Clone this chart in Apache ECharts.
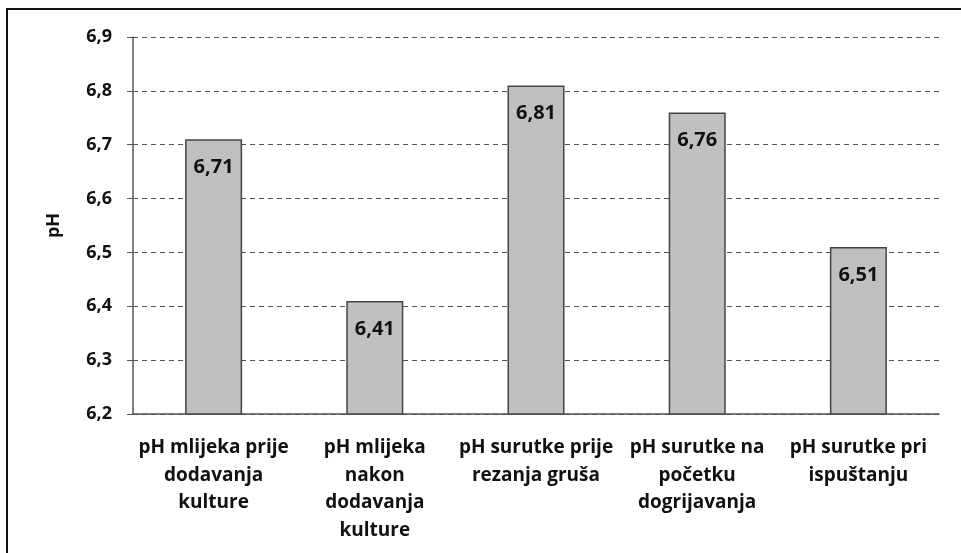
<!DOCTYPE html>
<html>
<head>
<meta charset="utf-8">
<script src="https://cdn.jsdelivr.net/npm/echarts@6/dist/echarts.min.js"></script>
<style>
  html, body { margin: 0; padding: 0; background: #fff; }
  #chart { width: 961px; height: 553px; }
</style>
</head>
<body>
<div id="chart"></div>
<script>
 var categories = ['pH mlijeka prije\ndodavanja\nkulture', 'pH mlijeka\nnakon\ndodavanja\nkulture',
   'pH surutke prije\nrezanja gruša', 'pH surutke na\npočetku\ndogrijavanja', 'pH surutke pri\nispuštanju'];
 var phValues = [6.71, 6.41, 6.81, 6.76, 6.51];
 var yMin = 6.2, yMax = 6.9, yStep = 0.1;

 function commaNum(v, d) {
   return v.toFixed(d).replace('.', ',');
 }

 function makeOption() {
   var option = {
     animation: false,
     textStyle: { fontFamily: 'Open Sans' },
     // okvir oko grafa
     graphic: [{
       type: 'rect',
       shape: { x: 7, y: 9, width: 1200, height: 1000 },
       style: { fill: 'none', stroke: '#111', lineWidth: 2 }
     }],
     grid: { left: 133, right: 22, top: 37, bottom: 139 },
     xAxis: {
       type: 'category',
       data: categories,
       axisLine: { lineStyle: { color: '#555', width: 1.5 } },
       axisTick: { show: false },
       axisLabel: {
         interval: 0,
         margin: 20,
         color: '#111',
         fontSize: 19,
         fontWeight: 'bold',
         lineHeight: 27.5,
         align: 'center'
       }
     },
     yAxis: {
       type: 'value',
       min: yMin,
       max: yMax,
       interval: yStep,
       name: 'pH',
       nameLocation: 'middle',
       nameGap: 70,
       nameRotate: 90,
       nameTextStyle: { color: '#111', fontSize: 18, fontWeight: 'bold' },
       axisLine: { show: true, lineStyle: { color: '#555', width: 1.5 } },
       axisTick: { show: true, length: 6, lineStyle: { color: '#555' } },
       axisLabel: {
         margin: 21,
         color: '#111',
         fontSize: 18,
         fontWeight: 'bold',
         formatter: function (v) { return commaNum(v, 1); }
       },
       splitLine: { lineStyle: { color: '#555', type: [5, 4], width: 1 } }
     },
     series: [{
       type: 'bar',
       data: phValues,
       barWidth: 57,
       itemStyle: { color: '#c0c0c0', borderColor: '#444', borderWidth: 1.5 },
       label: {
         show: true,
         position: 'insideTop',
         distance: 18,
         color: '#111',
         fontSize: 20,
         fontWeight: 'bold',
         formatter: function (p) { return commaNum(p.value, 2); }
       }
     }]
   };
   return option;
 }

 var myChart = echarts.init(document.getElementById('chart'));
 myChart.setOption(makeOption());
</script>
</body>
</html>
